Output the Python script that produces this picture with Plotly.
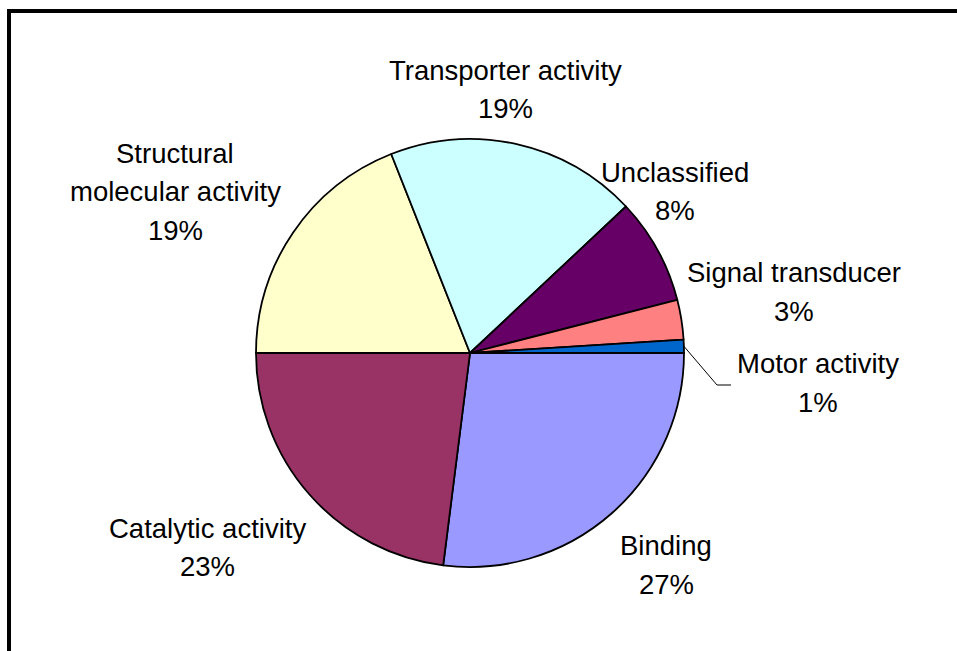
import math
import plotly.graph_objects as go

# Molecular function categories and their share of proteins (%)
categories = [
    "Binding",
    "Catalytic activity",
    "Structural molecular activity",
    "Transporter activity",
    "Unclassified",
    "Signal transducer",
    "Motor activity",
]
percent = [27, 23, 19, 19, 8, 3, 1]
colors = ["#9999FF", "#993366", "#FFFFCC", "#CCFFFF", "#660066", "#FF8080", "#0066CC"]

W, H = 957, 651
CX, CY, R = 470, 353, 214          # pie centre and radius, pixels
FONT = "Liberation Sans, Arial, Helvetica, sans-serif"
FS = 27.5
LINE_STEP = 38.5

# label block anchors: centre x and middle of the first text line (pixels)
label_pos = {
    "Binding": (666, 545.5),
    "Catalytic activity": (207, 528),
    "Structural molecular activity": (175, 153),
    "Transporter activity": (505, 70.5),
    "Unclassified": (674.5, 172.5),
    "Signal transducer": (794, 272.7),
    "Motor activity": (817.5, 363.5),
}
two_line_names = {"Structural molecular activity"}


def px(x):
    return x / W


def py(y):
    return 1 - y / H


fig = go.Figure(
    go.Pie(
        labels=categories,
        values=percent,
        sort=False,
        direction="clockwise",
        rotation=90,
        textinfo="none",
        marker=dict(colors=colors, line=dict(color="black", width=1.8)),
        domain=dict(x=[px(CX - R), px(CX + R)], y=[py(CY + R), py(CY - R)]),
        showlegend=False,
    )
)

annotations = []
total = sum(percent)
for name, val in zip(categories, percent):
    if name in two_line_names:
        lines = name.split(" ", 1)
    else:
        lines = [name]
    lines.append(f"{round(100 * val / total)}%")
    x0, y0 = label_pos[name]
    for k, line in enumerate(lines):
        annotations.append(
            dict(
                x=px(x0), y=py(y0 + k * LINE_STEP), xref="paper", yref="paper",
                text=line, showarrow=False, xanchor="center", yanchor="middle",
                font=dict(family=FONT, size=FS, color="black"),
            )
        )

# leader line for the smallest slice, starting at the middle of its arc
cum = 0
for name, val in zip(categories, percent):
    if name == "Motor activity":
        theta = math.radians(360 * (cum + val / 2) / total)
        sx, sy = CX + R * math.cos(theta), CY + R * math.sin(theta)
    cum += val
leader = f"M {px(sx)},{py(sy)} L {px(717)},{py(385)} L {px(731)},{py(385)}"

shapes = [
    dict(type="path", path=leader, xref="paper", yref="paper",
         line=dict(color="black", width=1)),
    # chart area frame
    dict(type="rect", xref="paper", yref="paper",
         x0=px(9), x1=1.05, y0=-0.05, y1=py(11),
         line=dict(color="black", width=4), fillcolor="rgba(0,0,0,0)"),
]

fig.update_layout(
    width=W, height=H,
    margin=dict(l=0, r=0, t=0, b=0),
    paper_bgcolor="white", plot_bgcolor="white",
    annotations=annotations,
    shapes=shapes,
)

fig.write_html("out.html")
